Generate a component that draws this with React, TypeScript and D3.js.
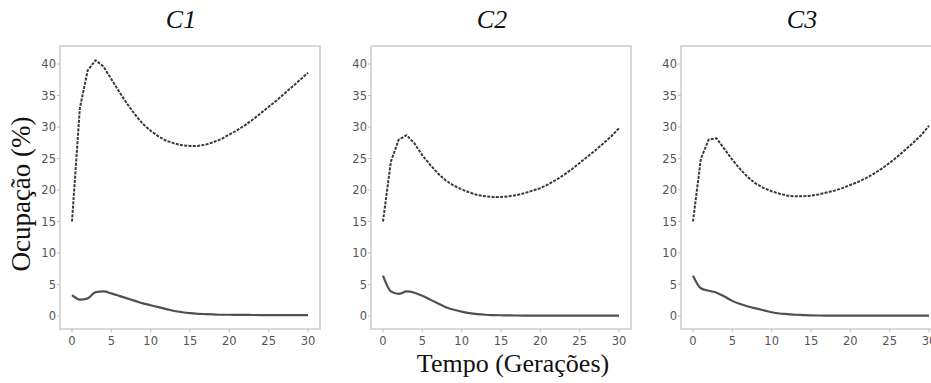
import React, { useEffect, useRef } from "react";
import * as d3 from "d3";

const generations = d3.range(0, 31);

const panelTitles = ["C1", "C2", "C3"];

// upper (dashed) series per panel
const upperC1 = [15, 33, 39, 40.6, 39.6, 37.6, 35.6, 33.7, 32.0, 30.5, 29.4, 28.5, 27.8, 27.4, 27.1, 27.0, 27.0, 27.2, 27.6, 28.1, 28.8, 29.5, 30.3, 31.2, 32.2, 33.2, 34.2, 35.3, 36.4, 37.5, 38.6];
const upperC2 = [15, 24.5, 28.0, 28.7, 27.4, 25.5, 24.0, 22.6, 21.5, 20.7, 20.1, 19.6, 19.2, 19.0, 18.9, 18.9, 19.0, 19.2, 19.5, 19.9, 20.3, 20.9, 21.6, 22.4, 23.3, 24.3, 25.3, 26.3, 27.4, 28.5, 29.8];
const upperC3 = [15, 25.0, 28.0, 28.2, 26.5, 24.8, 23.3, 22.0, 21.0, 20.3, 19.8, 19.4, 19.1, 19.0, 19.0, 19.1, 19.3, 19.6, 19.9, 20.3, 20.8, 21.3, 21.9, 22.6, 23.4, 24.3, 25.3, 26.4, 27.5, 28.7, 30.2];

// lower (solid) series per panel
const lowerC1 = [3.3, 2.6, 2.8, 3.8, 3.9, 3.6, 3.2, 2.8, 2.4, 2.0, 1.7, 1.4, 1.1, 0.8, 0.6, 0.45, 0.35, 0.3, 0.25, 0.2, 0.2, 0.18, 0.17, 0.16, 0.15, 0.15, 0.15, 0.15, 0.15, 0.15, 0.15];
const lowerC2 = [6.4, 3.9, 3.5, 3.9, 3.7, 3.2, 2.6, 2.0, 1.4, 1.0, 0.7, 0.45, 0.3, 0.2, 0.15, 0.12, 0.1, 0.08, 0.07, 0.06, 0.05, 0.05, 0.05, 0.05, 0.05, 0.05, 0.05, 0.05, 0.05, 0.05, 0.05];
const lowerC3 = [6.4, 4.4, 4.0, 3.7, 3.1, 2.4, 1.9, 1.5, 1.2, 0.9, 0.6, 0.4, 0.3, 0.2, 0.15, 0.1, 0.08, 0.07, 0.06, 0.05, 0.05, 0.05, 0.05, 0.05, 0.05, 0.05, 0.05, 0.05, 0.05, 0.05, 0.05];

const upperSeries = [upperC1, upperC2, upperC3];
const lowerSeries = [lowerC1, lowerC2, lowerC3];

const xTicks = [0, 5, 10, 15, 20, 25, 30];
const yTicks = [0, 5, 10, 15, 20, 25, 30, 35, 40];

const W = 931;
const H = 383;

export default function App() {
    const svgRef = useRef<SVGSVGElement>(null);

    useEffect(() => {
        if (!svgRef.current) return;
        const svg = d3.select(svgRef.current);
        svg.selectAll("*").remove();

        svg.append("rect").attr("width", W).attr("height", H).attr("fill", "#fff");

        const panelOffsets = [0, 311, 621];
        const frameTop = 46;
        const frameBottom = 329;

        const y = d3.scaleLinear().domain([0, 40]).range([316, 64]);

        panelOffsets.forEach((off, i) => {
            const x = d3.scaleLinear().domain([0, 30]).range([72 + off, 308 + off]);
            const frameLeft = 60 + off;
            const frameRight = 320 + off;
            const g = svg.append("g");

            // frame
            g.append("rect")
                .attr("x", frameLeft)
                .attr("y", frameTop)
                .attr("width", frameRight - frameLeft)
                .attr("height", frameBottom - frameTop)
                .attr("fill", "none")
                .attr("stroke", "#cfcfcf")
                .attr("stroke-width", 1.6);

            // y ticks
            yTicks.forEach((t) => {
                g.append("line")
                    .attr("x1", frameLeft - 3).attr("x2", frameLeft)
                    .attr("y1", y(t)).attr("y2", y(t))
                    .attr("stroke", "#bbb").attr("stroke-width", 1);
                g.append("text")
                    .attr("x", frameLeft - 4)
                    .attr("y", y(t))
                    .attr("dy", "0.35em")
                    .attr("text-anchor", "end")
                    .attr("font-family", "'DejaVu Sans', sans-serif")
                    .attr("font-size", "11.5px")
                    .attr("fill", "#555")
                    .text(t);
            });

            // x ticks
            xTicks.forEach((t) => {
                g.append("line")
                    .attr("x1", x(t)).attr("x2", x(t))
                    .attr("y1", frameBottom).attr("y2", frameBottom + 3)
                    .attr("stroke", "#bbb").attr("stroke-width", 1);
                g.append("text")
                    .attr("x", x(t))
                    .attr("y", frameBottom + 16)
                    .attr("text-anchor", "middle")
                    .attr("font-family", "'DejaVu Sans', sans-serif")
                    .attr("font-size", "11.5px")
                    .attr("fill", "#555")
                    .text(t);
            });

            // lower curve is smooth, upper one keeps its kinks near the start
            const smoothLine = d3.line<number>()
                .x((_, k) => x(generations[k]))
                .y((d) => y(d))
                .curve(d3.curveMonotoneX);
            const line = d3.line<number>()
                .x((_, k) => x(generations[k]))
                .y((d) => y(d));

            g.append("path")
                .attr("d", smoothLine(lowerSeries[i]) as string)
                .attr("fill", "none")
                .attr("stroke", "#505050")
                .attr("stroke-width", 2.2)
                .attr("stroke-linejoin", "round");

            g.append("path")
                .attr("d", line(upperSeries[i]) as string)
                .attr("fill", "none")
                .attr("stroke", "#3a3a3a")
                .attr("stroke-width", 2)
                .attr("stroke-linejoin", "round")
                .attr("stroke-dasharray", "3,1.3");

            // title
            g.append("text")
                .attr("x", (frameLeft + frameRight) / 2 - 9)
                .attr("y", 28)
                .attr("text-anchor", "middle")
                .attr("font-family", "'Liberation Serif', serif")
                .attr("font-style", "italic")
                .attr("font-size", "26px")
                .attr("fill", "#111")
                .text(panelTitles[i]);
        });

        svg.append("text")
            .attr("x", 513)
            .attr("y", 372)
            .attr("text-anchor", "middle")
            .attr("font-family", "'Liberation Serif', serif")
            .attr("font-size", "26px")
            .attr("fill", "#111")
            .text("Tempo (Gerações)");

        svg.append("text")
            .attr("transform", "translate(30, 194) rotate(-90)")
            .attr("text-anchor", "middle")
            .attr("font-family", "'Liberation Serif', serif")
            .attr("font-size", "27px")
            .attr("fill", "#111")
            .text("Ocupação (%)");
    }, []);

    return (
        <svg
            ref={svgRef}
            width={W}
            height={H}
            style={{ position: "absolute", left: 0, top: 0, display: "block" }}
        />
    );
}
